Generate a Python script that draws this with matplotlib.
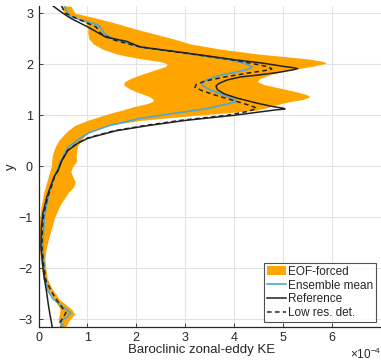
import numpy as np
import matplotlib
matplotlib.use("Agg")
import matplotlib.pyplot as plt

plt.rcParams['font.family'] = ['Liberation Sans', 'DejaVu Sans']
plt.rcParams['mathtext.fontset'] = 'custom'
plt.rcParams['mathtext.rm'] = 'Liberation Sans'

# EOF-forced ensemble spread (x in units of 1e-4), sampled on a shared y grid
band_y = [3.14, 3.0, 2.9, 2.8, 2.7, 2.6, 2.5, 2.4, 2.3, 2.2, 2.15, 2.1, 2.06, 2.03,
          2.0, 1.96, 1.92, 1.87, 1.8, 1.72, 1.66, 1.6, 1.53, 1.46, 1.4, 1.36, 1.31,
          1.27, 1.23, 1.17, 1.1, 1.05, 1.0, 0.9, 0.8, 0.7, 0.6, 0.5, 0.4, 0.3, 0.2,
          0.1, 0.0, -0.1, -0.2, -0.3, -0.4, -0.5, -0.6, -0.7, -0.8, -1.0, -1.2,
          -1.4, -1.6, -1.8, -2.0, -2.2, -2.4, -2.6, -2.8, -2.9, -3.0, -3.14]
band_lo = [0.46, 0.52, 0.85, 0.97, 1.01, 1.01, 1.03, 1.12, 1.30, 1.60, 1.85, 2.15,
           2.45, 2.58, 2.63, 2.60, 2.48, 2.32, 2.10, 1.88, 1.76, 1.74, 1.84, 2.00,
           2.18, 2.28, 2.35, 2.33, 2.22, 1.95, 1.70, 1.50, 1.33, 1.00, 0.74, 0.60,
           0.50, 0.41, 0.35, 0.31, 0.28, 0.27, 0.26, 0.23, 0.20, 0.17, 0.14, 0.11,
           0.09, 0.07, 0.05, 0.03, 0.01, 0.01, 0.02, 0.04, 0.07, 0.09, 0.18, 0.32,
           0.44, 0.43, 0.40, 0.44]
band_hi = [0.66, 0.75, 1.20, 1.60, 1.95, 2.35, 2.75, 3.10, 3.70, 4.50, 5.05, 5.55,
           5.80, 5.89, 5.80, 5.60, 5.35, 5.05, 4.75, 4.52, 4.47, 4.62, 4.95, 5.28,
           5.50, 5.55, 5.40, 5.15, 4.96, 4.75, 4.46, 3.85, 3.20, 2.08, 1.40, 1.10,
           0.95, 0.86, 0.80, 0.78, 0.77, 0.78, 0.70, 0.66, 0.70, 0.75, 0.72, 0.62,
           0.55, 0.48, 0.42, 0.33, 0.27, 0.21, 0.16, 0.13, 0.15, 0.18, 0.28, 0.42,
           0.68, 0.74, 0.64, 0.56]

# Ensemble mean
mean_y = [3.14, 3.05, 2.93, 2.77, 2.57, 2.47, 2.34, 2.22, 2.09, 2.02, 1.97, 1.94,
          1.9, 1.85, 1.78, 1.7, 1.64, 1.58, 1.5, 1.42, 1.35, 1.3, 1.27, 1.22, 1.13,
          1.05, 0.94, 0.8, 0.65, 0.5, 0.37, 0.1, -0.2, -0.5, -1.0, -1.5, -2.0, -2.2,
          -2.43, -2.6, -2.75, -2.87, -2.95, -3.02, -3.14]
mean_x = [0.54, 0.57, 0.66, 1.22, 1.38, 1.62, 2.05, 3.00, 3.90, 4.20, 4.33, 4.36,
          4.28, 4.05, 3.70, 3.45, 3.35, 3.36, 3.50, 3.72, 3.92, 4.03, 4.04, 3.85,
          3.44, 2.85, 2.08, 1.45, 1.01, 0.78, 0.60, 0.45, 0.33, 0.22, 0.12, 0.09,
          0.11, 0.14, 0.19, 0.30, 0.50, 0.66, 0.58, 0.46, 0.50]

# Reference run
ref_y = [3.14, 3.0, 2.9, 2.73, 2.53, 2.45, 2.34, 2.21, 2.09, 2.02, 1.96, 1.935,
         1.915, 1.89, 1.84, 1.79, 1.75, 1.69, 1.62, 1.57, 1.5, 1.42, 1.34, 1.24,
         1.17, 1.14, 1.125, 1.1, 1.0, 0.9, 0.8, 0.7, 0.6, 0.55, 0.45, 0.31, 0.1,
         -0.08, -0.2, -0.41, -0.6, -0.92, -1.2, -1.58, -1.98, -2.2, -2.43, -2.7,
         -2.88, -3.14]
ref_x = [0.30, 0.50, 0.66, 1.01, 1.38, 1.80, 2.08, 3.10, 4.00, 4.60, 5.00, 5.20,
         5.30, 5.20, 4.90, 4.50, 4.12, 3.85, 3.68, 3.63, 3.66, 3.80, 4.05, 4.46,
         4.80, 5.00, 5.04, 4.80, 4.00, 3.00, 2.25, 1.60, 1.20, 1.01, 0.80, 0.60,
         0.47, 0.40, 0.32, 0.24, 0.17, 0.09, 0.06, 0.05, 0.09, 0.12, 0.16, 0.20,
         0.23, 0.28]

# Low resolution deterministic run
low_y = [3.14, 3.0, 2.86, 2.73, 2.6, 2.47, 2.34, 2.21, 2.09, 2.0, 1.95, 1.91, 1.88,
         1.83, 1.75, 1.67, 1.6, 1.55, 1.48, 1.4, 1.3, 1.2, 1.15, 1.13, 1.07, 1.0,
         0.9, 0.8, 0.7, 0.6, 0.55, 0.45, 0.31, 0.1, -0.08, -0.2, -0.41, -0.6,
         -0.92, -1.2, -1.58, -1.9, -2.24, -2.56, -2.87, -3.06, -3.14]
low_x = [0.47, 0.55, 0.87, 1.18, 1.28, 1.56, 2.08, 3.05, 3.95, 4.45, 4.70, 4.77,
         4.65, 4.30, 3.80, 3.40, 3.22, 3.20, 3.35, 3.60, 3.95, 4.30, 4.44, 4.46,
         4.25, 3.85, 2.90, 2.18, 1.56, 1.17, 0.99, 0.79, 0.59, 0.47, 0.40, 0.33,
         0.26, 0.19, 0.11, 0.08, 0.07, 0.10, 0.15, 0.33, 0.56, 0.44, 0.46]

x_ticks = [0, 1, 2, 3, 4, 5, 6]
y_ticks = [-3, -2, -1, 0, 1, 2, 3]

fig = plt.figure(figsize=(3.81, 3.61), dpi=100)
ax = fig.add_axes([38.5 / 381, 1 - 326.7 / 361, (380.8 - 38.5) / 381, (326.7 - 6) / 361])

ax.fill_betweenx(band_y, band_lo, band_hi, color='#FFA500', lw=0, label='EOF-forced')
ax.plot(mean_x, mean_y, color='#4AA8D8', lw=1.2, label='Ensemble mean')
ax.plot(ref_x, ref_y, color='#222222', lw=1.1, label='Reference')
ax.plot(low_x, low_y, color='#222222', lw=1.1, ls=(0, (3, 2.2)), label='Low res. det.')

ax.set_xlim(0, 7)
ax.set_ylim(-np.pi, np.pi)
ax.set_xticks(x_ticks)
ax.set_yticks(y_ticks)
ax.grid(True, color='#e3e3e3', lw=0.8)
ax.set_axisbelow(True)
for side in ('top', 'right'):
    ax.spines[side].set_visible(False)
for side in ('left', 'bottom'):
    ax.spines[side].set_color('#262626')
    ax.spines[side].set_linewidth(0.9)
ax.tick_params(direction='in', length=3, width=0.6, colors='#262626',
               labelsize=9, pad=4)

ax.set_xlabel('Baroclinic zonal-eddy KE', fontsize=9.5, color='#262626')
ax.xaxis.set_label_coords((202 - 38.5) / 342.3, -0.055)
ax.set_ylabel('y', fontsize=9.5, color='#262626')
ax.yaxis.set_label_coords(-(38.5 - 17) / 342.3, 0.5)
ax.text(1.0, -0.062, r'$\times10^{-4}$', transform=ax.transAxes, ha='right', va='top',
        fontsize=8.5, color='#262626')

leg = ax.legend(loc='lower right', bbox_to_anchor=((376 - 38.5) / 342.3, (326.7 - 322) / 320.7),
                fontsize=8.5, frameon=True, fancybox=False, borderpad=0.25,
                handlelength=1.6, handletextpad=0.2, labelspacing=0.15,
                borderaxespad=0)
leg.get_frame().set_edgecolor('#262626')
leg.get_frame().set_linewidth(0.8)
for t in leg.get_texts():
    t.set_color('#262626')

fig.savefig('out.png', dpi=100)
